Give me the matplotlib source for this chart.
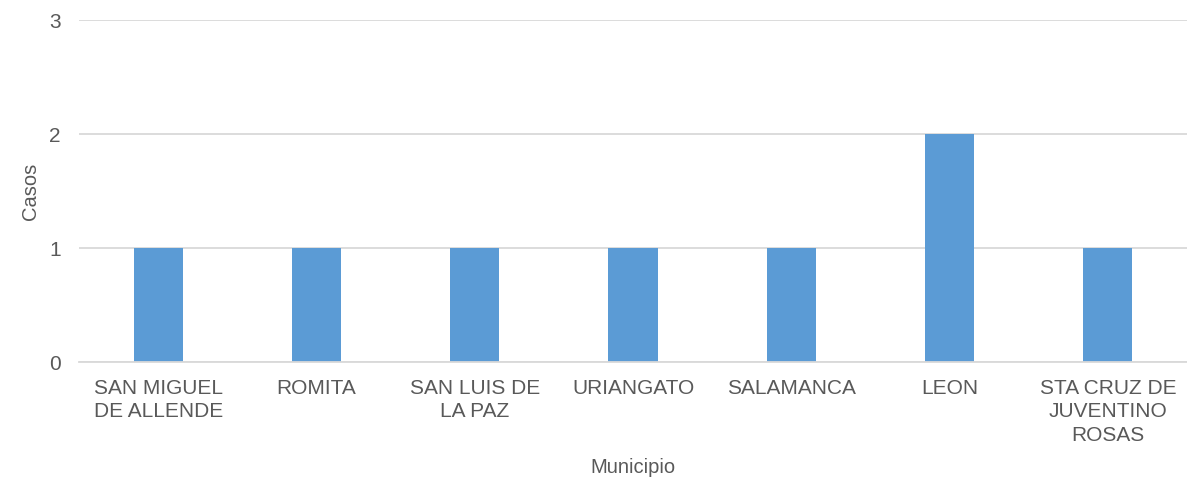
import matplotlib.pyplot as plt
import numpy as np

plt.rcParams['font.family'] = ['Liberation Sans', 'DejaVu Sans']

municipios = ["SAN MIGUEL\nDE ALLENDE", "ROMITA", "SAN LUIS DE\nLA PAZ", "URIANGATO",
              "SALAMANCA", "LEON", "STA CRUZ DE\nJUVENTINO\nROSAS"]
casos = [1, 1, 1, 1, 1, 2, 1]

COLOR_BARRA = "#5b9bd5"
COLOR_TEXTO = "#595959"
COLOR_GRID = "#d9d9d9"

fig = plt.figure(figsize=(11.87, 4.82), dpi=100)
ax = fig.add_axes([79/1187, 1 - 362/482, 1 - 79/1187, (362 - 20)/482])

x = np.arange(len(municipios))
ax.bar(x, casos, width=0.31, color=COLOR_BARRA, zorder=2)

ax.set_xlim(-0.5, len(municipios) - 0.5)
ax.set_ylim(0, 3)
ax.set_yticks([0, 1, 2, 3])
ax.grid(axis='y', color=COLOR_GRID, linewidth=1.3, zorder=0)
ax.set_xticks(x)
ax.set_xticklabels(municipios, fontsize=15, color=COLOR_TEXTO, linespacing=1.3)
ax.tick_params(axis='y', labelsize=15, labelcolor=COLOR_TEXTO, length=0, pad=13)
ax.tick_params(axis='x', length=0, pad=12)

for lado in ['top', 'right', 'left']:
    ax.spines[lado].set_visible(False)
ax.spines['bottom'].set_color(COLOR_GRID)
ax.spines['bottom'].set_linewidth(1.3)

ax.set_xlabel("Municipio", fontsize=14.5, color=COLOR_TEXTO)
ax.set_ylabel("Casos", fontsize=14.5, color=COLOR_TEXTO)
ax.xaxis.set_label_coords(0.5, -0.28)
ax.yaxis.set_label_coords(-0.035, 0.5)

plt.savefig("out.png", dpi=100)
